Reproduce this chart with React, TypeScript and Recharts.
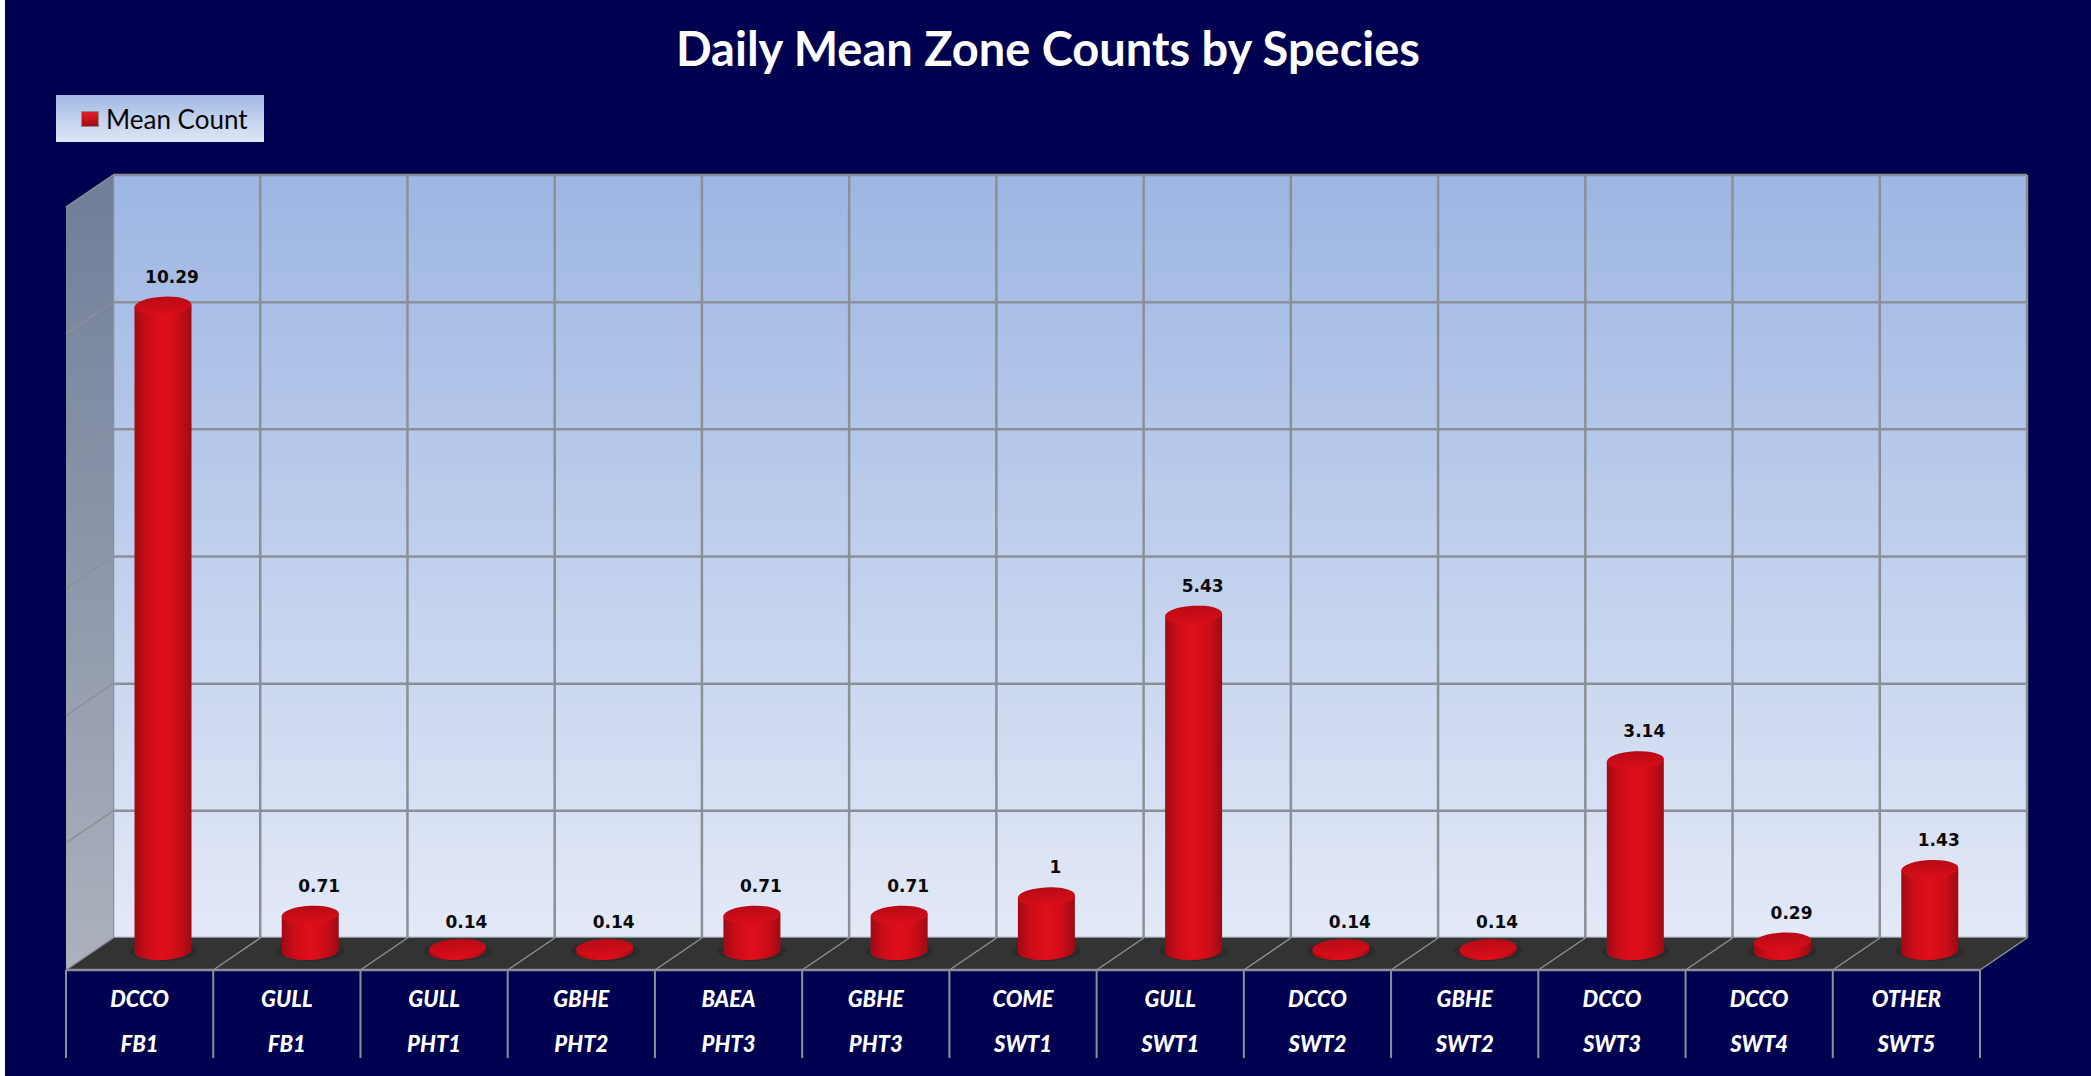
import { Bar, BarChart, CartesianGrid, LabelList, Legend, XAxis, YAxis } from "recharts";

const species = ["DCCO", "GULL", "GULL", "GBHE", "BAEA", "GBHE", "COME", "GULL", "DCCO", "GBHE", "DCCO", "DCCO", "OTHER"];
const zones = ["FB1", "FB1", "PHT1", "PHT2", "PHT3", "PHT3", "SWT1", "SWT1", "SWT2", "SWT2", "SWT3", "SWT4", "SWT5"];
const meanCounts = [10.29, 0.71, 0.14, 0.14, 0.71, 0.71, 1, 5.43, 0.14, 0.14, 3.14, 0.29, 1.43];
const valueTicks = [0, 2, 4, 6, 8, 10, 12];

const chartData = species.map((name, i) => ({
  key: `${name} ${zones[i]}`,
  count: meanCounts[i],
}));

// back wall of the fake 3d box, the plot area sits exactly on it
const WIDTH = 2091;
const HEIGHT = 1076;
const WALL_LEFT = 113;
const WALL_RIGHT = 2027;
const WALL_TOP = 175;
const WALL_BOTTOM = 938;
const DEPTH_X = 47;
const DEPTH_Y = 32;
const AXIS_HEIGHT = 120;
const BAND = (WALL_RIGHT - WALL_LEFT) / species.length;
const GRID_COLOR = "#8b9097";

const bandEdges = species.map((_, i) => WALL_LEFT + BAND * i);
const rowEdges = valueTicks.map(
  (_, i) => WALL_TOP + ((WALL_BOTTOM - WALL_TOP) * i) / (valueTicks.length - 1),
);

function Cylinder(props: any) {
  const { x, y, width, height } = props;
  const cx = x + width / 2 - DEPTH_X / 2;
  const rx = width / 2;
  const ry = 9;
  const baseY = y + height + 13;
  const topY = Math.min(y + 22, baseY - 3);
  return (
    <g>
      <ellipse cx={cx} cy={baseY} rx={rx + 6} ry={ry + 1} fill="#1c1c1c" opacity={0.3} />
      <path
        d={`M${cx - rx} ${topY + 1} L${cx - rx} ${baseY + 1} A${rx} ${ry} -3 0 0 ${cx + rx} ${baseY - 1} L${cx + rx} ${topY - 1} Z`}
        fill="url(#cylinderSide)"
      />
      <ellipse
        cx={cx}
        cy={topY}
        rx={rx}
        ry={ry}
        fill="url(#cylinderTop)"
        transform={`rotate(-3 ${cx} ${topY})`}
      />
    </g>
  );
}

function CountLabel(props: any) {
  const { x, y, width, value } = props;
  return (
    <text
      x={x + width / 2 - DEPTH_X / 2 + 9}
      y={y - 7}
      textAnchor="middle"
      dominantBaseline="central"
      fill="#0a0a0a"
      fontFamily="'DejaVu Sans', sans-serif"
      fontWeight={700}
      fontSize={17}
    >
      {value}
    </text>
  );
}

function ZoneTick(props: any) {
  const { index, payload } = props;
  const i = index ?? payload?.index ?? 0;
  const left = WALL_LEFT - DEPTH_X + BAND * i;
  const labelStyle = {
    fill: "#ffffff",
    fontFamily: "Lato, sans-serif",
    fontStyle: "italic",
    fontWeight: 900,
    fontSize: 22,
  } as const;
  return (
    <g>
      <text x={left + BAND / 2} y={998} textAnchor="middle" dominantBaseline="central" {...labelStyle}>
        {species[i]}
      </text>
      <text x={left + BAND / 2} y={1043} textAnchor="middle" dominantBaseline="central" {...labelStyle}>
        {zones[i]}
      </text>
    </g>
  );
}

function MeanLegend() {
  return (
    <div
      style={{
        boxSizing: "border-box",
        width: 208,
        height: 47,
        display: "flex",
        alignItems: "center",
        paddingLeft: 25,
        gap: 7,
        background: "linear-gradient(#a1b9e4, #e0e7f6)",
        color: "#050505",
        fontFamily: "Lato, sans-serif",
        fontSize: 26,
      }}
    >
      <span
        style={{
          width: 18,
          height: 16,
          background: "linear-gradient(#e0202c, #a80812)",
          border: "1px solid #8c8c8c",
          boxSizing: "border-box",
        }}
      />
      Mean Count
    </div>
  );
}

export default function App() {
  const frontY = WALL_BOTTOM + DEPTH_Y;
  const frontLeft = WALL_LEFT - DEPTH_X;
  const frontRight = WALL_RIGHT - DEPTH_X;

  return (
    <div style={{ position: "absolute", left: 0, top: 0, width: WIDTH, height: HEIGHT, background: "#ffffff" }}>
      <div style={{ position: "absolute", left: 5, top: 0, width: WIDTH - 5, height: HEIGHT, background: "#000050" }} />
      <div style={{ position: "absolute", left: 0, top: 0 }}>
        <BarChart
          width={WIDTH}
          height={HEIGHT}
          data={chartData}
          margin={{ top: WALL_TOP, right: WIDTH - WALL_RIGHT, bottom: HEIGHT - WALL_BOTTOM - AXIS_HEIGHT, left: WALL_LEFT }}
        >
          <defs>
            <linearGradient id="wallFill" x1="0" y1="0" x2="0" y2="1">
              <stop offset="0%" stopColor="#9db6e3" />
              <stop offset="100%" stopColor="#e3e9f7" />
            </linearGradient>
            <linearGradient id="sideFill" x1="0" y1="0" x2="0" y2="1">
              <stop offset="0%" stopColor="#6f7e99" />
              <stop offset="100%" stopColor="#acb1bc" />
            </linearGradient>
            <linearGradient id="cylinderSide" x1="0" y1="0" x2="1" y2="0">
              <stop offset="0%" stopColor="#a00b14" />
              <stop offset="22%" stopColor="#cc0c18" />
              <stop offset="50%" stopColor="#e00f1b" />
              <stop offset="78%" stopColor="#cc0c18" />
              <stop offset="100%" stopColor="#9c0b14" />
            </linearGradient>
            <linearGradient id="cylinderTop" x1="0" y1="0" x2="0" y2="1">
              <stop offset="0%" stopColor="#b80a15" />
              <stop offset="100%" stopColor="#d80e1a" />
            </linearGradient>
          </defs>

          <text
            x={1048}
            y={48}
            textAnchor="middle"
            dominantBaseline="central"
            fill="#ffffff"
            fontFamily="Lato, sans-serif"
            fontWeight={700}
            fontSize={47}
          >
            Daily Mean Zone Counts by Species
          </text>

          <polygon
            points={`${frontLeft},${WALL_TOP + DEPTH_Y} ${WALL_LEFT},${WALL_TOP} ${WALL_LEFT},${WALL_BOTTOM} ${frontLeft},${frontY}`}
            fill="url(#sideFill)"
          />
          <polygon
            points={`${frontLeft},${frontY} ${WALL_LEFT},${WALL_BOTTOM} ${WALL_RIGHT},${WALL_BOTTOM} ${frontRight},${frontY}`}
            fill="#333333"
          />
          {rowEdges.slice(0, -1).map((y) => (
            <line key={y} x1={WALL_LEFT} y1={y} x2={frontLeft} y2={y + DEPTH_Y} stroke={GRID_COLOR} strokeWidth={1.5} />
          ))}
          {[...bandEdges, WALL_RIGHT].map((x) => (
            <line key={x} x1={x} y1={WALL_BOTTOM} x2={x - DEPTH_X} y2={frontY} stroke={GRID_COLOR} strokeWidth={1.5} />
          ))}
          <line x1={frontLeft} y1={frontY} x2={frontRight} y2={frontY} stroke={GRID_COLOR} strokeWidth={2.5} />
          {[...bandEdges, WALL_RIGHT].map((x) => (
            <line key={x} x1={x - DEPTH_X} y1={frontY} x2={x - DEPTH_X} y2={1058} stroke={GRID_COLOR} strokeWidth={2} />
          ))}

          <CartesianGrid
            fill="url(#wallFill)"
            fillOpacity={1}
            stroke={GRID_COLOR}
            strokeWidth={2.5}
            horizontalPoints={rowEdges}
            verticalPoints={[...bandEdges, WALL_RIGHT]}
          />
          <XAxis
            dataKey="key"
            height={AXIS_HEIGHT}
            interval={0}
            axisLine={false}
            tickLine={false}
            tick={<ZoneTick />}
          />
          <YAxis hide domain={[0, 12]} ticks={valueTicks} />
          <Legend
            layout="horizontal"
            verticalAlign="middle"
            align="center"
            wrapperStyle={{ left: 56, top: 95, width: 208, height: 47 }}
            content={<MeanLegend />}
          />
          <Bar dataKey="count" name="Mean Count" barSize={57} shape={<Cylinder />} isAnimationActive={false}>
            <LabelList dataKey="count" content={<CountLabel />} />
          </Bar>
        </BarChart>
      </div>
    </div>
  );
}
